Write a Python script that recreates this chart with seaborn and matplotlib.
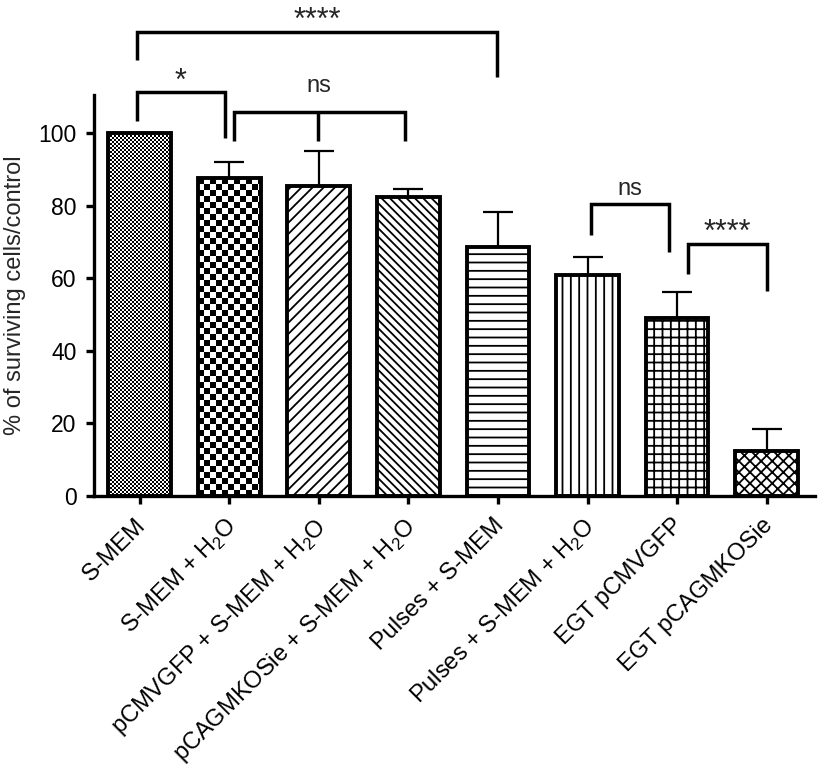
import numpy as np
import pandas as pd
import seaborn as sns
import matplotlib
matplotlib.use('Agg')
import matplotlib.pyplot as plt
from matplotlib.transforms import ScaledTranslation

# values
groups = ['S-MEM', 'S-MEM + H$_\\mathregular{2}$O', 'pCMVGFP + S-MEM + H$_\\mathregular{2}$O',
          'pCAGMKOSie + S-MEM + H$_\\mathregular{2}$O', 'Pulses + S-MEM',
          'Pulses + S-MEM + H$_\\mathregular{2}$O', 'EGT pCMVGFP', 'EGT pCAGMKOSie']
means = [100, 87.5, 85.3, 82.4, 68.6, 60.8, 49.0, 12.4]
sem = [0, 4.5, 9.7, 2.2, 9.6, 5.0, 7.2, 6.1]
yticks = [0, 20, 40, 60, 80, 100]

# significance brackets: leg x positions, bar height, leg bottoms, label, label baseline
brackets = [
    ([-0.03, 3.99], 127.8, [120.1, 115.4], '****', 128.6),
    ([-0.03, 0.95], 111.3, [103.3, 98.6], '*', 111.9),
    ([1.05, 1.99, 2.96], 105.8, [97.8, 97.8, 97.8], 'ns', 111.3),
    ([5.04, 5.91], 80.4, [71.9, 67.2], 'ns', 82.9),
    ([6.12, 7.0], 69.4, [61.2, 56.5], '****', 70.2),
]

hatches = [None, None, '///', '\\\\\\\\', '--', '||', '++', 'xxx']
checker_px = {0: 2, 1: 6}  # checkerboard fill, square size in pixels

sns.set_style('ticks')
plt.rcParams['font.family'] = ['Liberation Sans', 'DejaVu Sans']
plt.rcParams['mathtext.fontset'] = 'custom'
plt.rcParams['mathtext.rm'] = 'Liberation Sans'
plt.rcParams['hatch.linewidth'] = 1.3

df = pd.DataFrame({'group': groups, 'value': means})

fig = plt.figure(figsize=(8.19, 7.77), dpi=100)
ax = fig.add_axes([0.1148, 0.3616, 0.8803, 0.5161])

sns.barplot(data=df, x='group', y='value', color='white', edgecolor='black',
            linewidth=2.8, width=0.7, saturation=1, ax=ax)

ax.errorbar(x=np.arange(len(groups)), y=means, yerr=[np.zeros(len(sem)), sem],
            fmt='none', ecolor='black', elinewidth=1.6, capsize=10.5, capthick=1.6, zorder=0.8)

ax.set_xlim(-0.51, 7.54)
ax.set_ylim(0, 110.5)

for i, p in enumerate(ax.patches):
    p.set_zorder(1)
    if i in checker_px:
        p.set_facecolor('none')
        x0, w, h = p.get_x(), p.get_width(), p.get_height()
        a = ax.transData.transform((x0, 0))
        b = ax.transData.transform((x0 + w, h))
        sq = checker_px[i]
        nc = int(round(b[0] - a[0]))
        nr = int(round(b[1] - a[1]))
        rr, cc = np.mgrid[0:nr, 0:nc]
        board = ((rr // sq) + (cc // sq)) % 2
        im = ax.imshow(board, cmap='gray', extent=[x0, x0 + w, 0, h],
                       interpolation='nearest', aspect='auto', zorder=0.5)
        im.set_clip_path(p)
    elif hatches[i]:
        p.set_hatch(hatches[i])

ax.set_xlim(-0.51, 7.54)
ax.set_ylim(0, 110.5)

# brackets
for xs, ytop, bottoms, label, ylab in brackets:
    ax.plot([xs[0], xs[0], xs[-1], xs[-1]], [bottoms[0], ytop, ytop, bottoms[-1]],
            color='black', lw=2.5, clip_on=False, solid_joinstyle='miter', solid_capstyle='butt')
    for xm, yb in zip(xs[1:-1], bottoms[1:-1]):
        ax.plot([xm, xm], [yb, ytop], color='black', lw=2.5, clip_on=False, solid_capstyle='butt')
    size = 22 if '*' in label else 17
    ax.text((xs[0] + xs[-1]) / 2, ylab, label, ha='center', va='baseline', fontsize=size,
            clip_on=False)

ax.set_yticks(yticks)
ax.set_xticks(range(len(groups)))
ax.set_xticklabels(groups, rotation=45, ha='right', rotation_mode='anchor')
ax.tick_params(axis='both', direction='out', length=6, width=2.4, labelsize=16.5, colors='black')
ax.tick_params(axis='x', pad=7, labelsize=17)
ax.tick_params(axis='y', pad=6.5)
shift = ScaledTranslation(-5 / 100, 0, fig.dpi_scale_trans)
for lab in ax.get_xticklabels():
    lab.set_transform(lab.get_transform() + shift)
ax.set_xlabel('')
ax.set_ylabel('% of surviving cells/control', fontsize=17, labelpad=9)
sns.despine(ax=ax)
for s in ['left', 'bottom']:
    ax.spines[s].set_linewidth(2.4)
    ax.spines[s].set_color('black')

fig.savefig('out.png', dpi=100)
